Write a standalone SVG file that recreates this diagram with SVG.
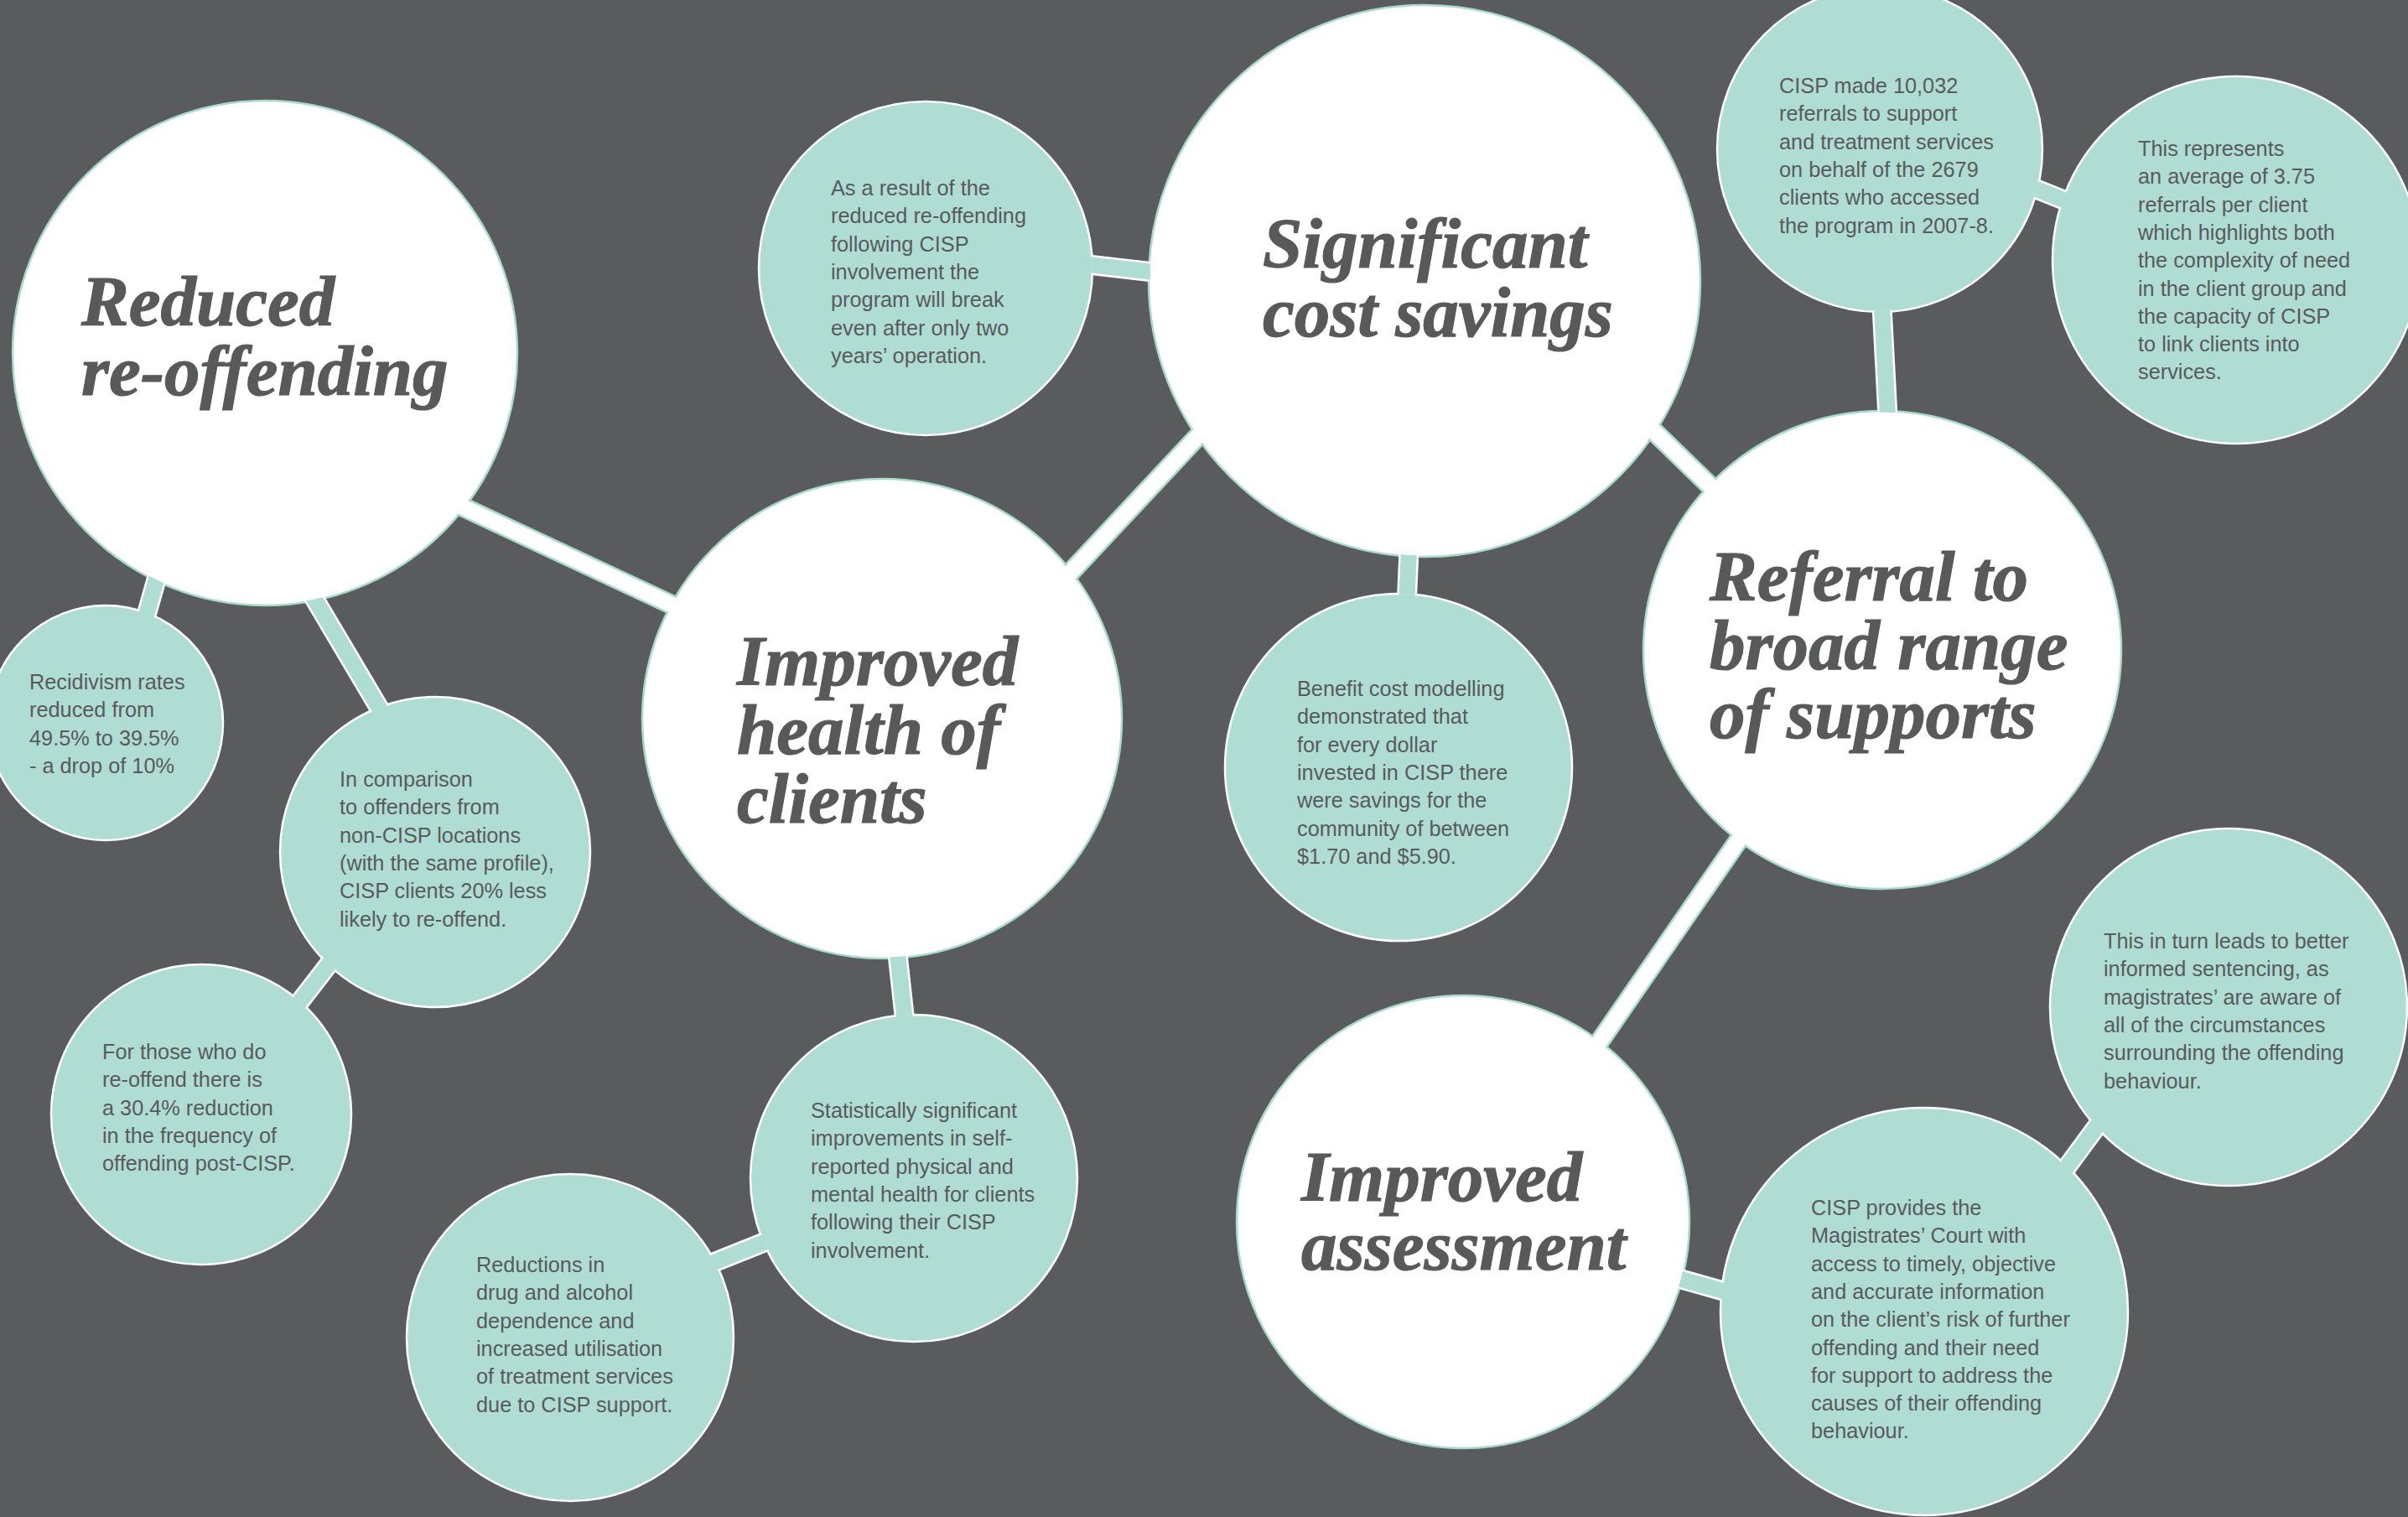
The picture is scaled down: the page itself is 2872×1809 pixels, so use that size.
<svg xmlns="http://www.w3.org/2000/svg" width="2872" height="1809" viewBox="0 0 2872 1809">
  <style>
    .bg { fill: #5a5b5d; }
    .main { fill: #ffffff; stroke: #a9d9cf; stroke-width: 2.5; }
    .fact { fill: #afdcd3; stroke: #ffffff; stroke-width: 2.5; }
    .title { font-family: "Liberation Serif", "Times New Roman", serif; font-weight: bold; font-style: italic; font-size: 85px; fill: #58595b; stroke: #58595b; stroke-width: 1.2; }
    .body { font-family: "Liberation Sans", Arial, sans-serif; font-size: 25.3px; fill: #595a5c; }
    .w-edge { stroke: #a9d9cf; stroke-width: 24; fill: none; }
    .w-core { stroke: #ffffff; stroke-width: 19; fill: none; }
    .t-edge { stroke: #ffffff; stroke-width: 24; fill: none; }
    .t-core { stroke: #afdcd3; stroke-width: 19; fill: none; }
  </style>
  <defs>
    <!-- hides connector segments inside the bubbles so they join each outline cleanly -->
    <mask id="outside-bubbles" maskUnits="userSpaceOnUse" x="0" y="0" width="2872" height="1809">
      <rect x="0" y="0" width="2872" height="1809" fill="#fff"/>
      <g fill="#000">
        <circle cx="316" cy="421" r="299.5"/>
        <circle cx="126" cy="862" r="138.5"/>
        <circle cx="519" cy="1016" r="183.5"/>
        <circle cx="240" cy="1329" r="177.5"/>
        <circle cx="1052" cy="857" r="284.5"/>
        <circle cx="1090" cy="1405" r="193.5"/>
        <circle cx="680" cy="1595" r="193.5"/>
        <circle cx="1104" cy="320" r="197.5"/>
        <circle cx="1699" cy="335" r="327.5"/>
        <circle cx="1668" cy="915" r="205.5"/>
        <circle cx="2242" cy="178" r="192.5"/>
        <circle cx="2667" cy="310" r="217.5"/>
        <circle cx="2245" cy="775" r="283.5"/>
        <circle cx="1745" cy="1457" r="268.5"/>
        <circle cx="2295" cy="1564" r="241.5"/>
        <circle cx="2658" cy="1201" r="211.5"/>
      </g>
    </mask>
  </defs>

  <rect class="bg" x="0" y="0" width="2872" height="1809"/>

  <!-- Main outcome bubbles -->
  <g id="reduced-reoffending">
    <circle class="main" cx="316" cy="421" r="301"/>
    <text class="title"><tspan x="97" y="388">Reduced</tspan><tspan x="97" y="471">re-offending</tspan></text>
  </g>
  <g id="improved-health">
    <circle class="main" cx="1052" cy="857" r="286"/>
    <text class="title"><tspan x="879" y="817">Improved</tspan><tspan x="879" y="899">health of</tspan><tspan x="879" y="981">clients</tspan></text>
  </g>
  <g id="cost-savings">
    <circle class="main" cx="1699" cy="335" r="329"/>
    <text class="title"><tspan x="1506" y="319">Significant</tspan><tspan x="1506" y="401">cost savings</tspan></text>
  </g>
  <g id="referral">
    <circle class="main" cx="2245" cy="775" r="285"/>
    <text class="title"><tspan x="2039" y="716">Referral to</tspan><tspan x="2039" y="798">broad range</tspan><tspan x="2039" y="880">of supports</tspan></text>
  </g>
  <g id="improved-assessment">
    <circle class="main" cx="1745" cy="1457" r="270"/>
    <text class="title"><tspan x="1552" y="1432">Improved</tspan><tspan x="1552" y="1514">assessment</tspan></text>
  </g>

  <!-- Supporting fact bubbles -->
  <g id="recidivism">
    <circle class="fact" cx="126" cy="862" r="140"/>
    <text class="body" x="35" y="822"><tspan x="35">Recidivism rates</tspan><tspan x="35" dy="33.3">reduced from</tspan><tspan x="35" dy="33.3">49.5% to 39.5%</tspan><tspan x="35" dy="33.3">- a drop of 10%</tspan></text>
  </g>
  <g id="comparison">
    <circle class="fact" cx="519" cy="1016" r="185"/>
    <text class="body" x="405" y="938"><tspan x="405">In comparison</tspan><tspan x="405" dy="33.3">to offenders from</tspan><tspan x="405" dy="33.3">non-CISP locations</tspan><tspan x="405" dy="33.3">(with the same profile),</tspan><tspan x="405" dy="33.3">CISP clients 20% less</tspan><tspan x="405" dy="33.3">likely to re-offend.</tspan></text>
  </g>
  <g id="frequency">
    <circle class="fact" cx="240" cy="1329" r="179"/>
    <text class="body" x="122" y="1263"><tspan x="122">For those who do</tspan><tspan x="122" dy="33.3">re-offend there is</tspan><tspan x="122" dy="33.3">a 30.4% reduction</tspan><tspan x="122" dy="33.3">in the frequency of</tspan><tspan x="122" dy="33.3">offending post-CISP.</tspan></text>
  </g>
  <g id="health-improvements">
    <circle class="fact" cx="1090" cy="1405" r="195"/>
    <text class="body" x="967" y="1333"><tspan x="967">Statistically significant</tspan><tspan x="967" dy="33.3">improvements in self-</tspan><tspan x="967" dy="33.3">reported physical and</tspan><tspan x="967" dy="33.3">mental health for clients</tspan><tspan x="967" dy="33.3">following their CISP</tspan><tspan x="967" dy="33.3">involvement.</tspan></text>
  </g>
  <g id="drug-alcohol">
    <circle class="fact" cx="680" cy="1595" r="195"/>
    <text class="body" x="568" y="1517"><tspan x="568">Reductions in</tspan><tspan x="568" dy="33.3">drug and alcohol</tspan><tspan x="568" dy="33.3">dependence and</tspan><tspan x="568" dy="33.3">increased utilisation</tspan><tspan x="568" dy="33.3">of treatment services</tspan><tspan x="568" dy="33.3">due to CISP support.</tspan></text>
  </g>
  <g id="break-even">
    <circle class="fact" cx="1104" cy="320" r="199"/>
    <text class="body" x="991" y="233"><tspan x="991">As a result of the</tspan><tspan x="991" dy="33.3">reduced re-offending</tspan><tspan x="991" dy="33.3">following CISP</tspan><tspan x="991" dy="33.3">involvement the</tspan><tspan x="991" dy="33.3">program will break</tspan><tspan x="991" dy="33.3">even after only two</tspan><tspan x="991" dy="33.3">years’ operation.</tspan></text>
  </g>
  <g id="benefit-cost">
    <circle class="fact" cx="1668" cy="915" r="207"/>
    <text class="body" x="1547" y="830"><tspan x="1547">Benefit cost modelling</tspan><tspan x="1547" dy="33.3">demonstrated that</tspan><tspan x="1547" dy="33.3">for every dollar</tspan><tspan x="1547" dy="33.3">invested in CISP there</tspan><tspan x="1547" dy="33.3">were savings for the</tspan><tspan x="1547" dy="33.3">community of between</tspan><tspan x="1547" dy="33.3">$1.70 and $5.90.</tspan></text>
  </g>
  <g id="referrals-made">
    <circle class="fact" cx="2242" cy="178" r="194"/>
    <text class="body" x="2122" y="111"><tspan x="2122">CISP made 10,032</tspan><tspan x="2122" dy="33.3">referrals to support</tspan><tspan x="2122" dy="33.3">and treatment services</tspan><tspan x="2122" dy="33.3">on behalf of the 2679</tspan><tspan x="2122" dy="33.3">clients who accessed</tspan><tspan x="2122" dy="33.3">the program in 2007-8.</tspan></text>
  </g>
  <g id="referral-average">
    <circle class="fact" cx="2667" cy="310" r="219"/>
    <text class="body" x="2550" y="186"><tspan x="2550">This represents</tspan><tspan x="2550" dy="33.3">an average of 3.75</tspan><tspan x="2550" dy="33.3">referrals per client</tspan><tspan x="2550" dy="33.3">which highlights both</tspan><tspan x="2550" dy="33.3">the complexity of need</tspan><tspan x="2550" dy="33.3">in the client group and</tspan><tspan x="2550" dy="33.3">the capacity of CISP</tspan><tspan x="2550" dy="33.3">to link clients into</tspan><tspan x="2550" dy="33.3">services.</tspan></text>
  </g>
  <g id="court-information">
    <circle class="fact" cx="2295" cy="1564" r="243"/>
    <text class="body" x="2160" y="1449"><tspan x="2160">CISP provides the</tspan><tspan x="2160" dy="33.3">Magistrates’ Court with</tspan><tspan x="2160" dy="33.3">access to timely, objective</tspan><tspan x="2160" dy="33.3">and accurate information</tspan><tspan x="2160" dy="33.3">on the client’s risk of further</tspan><tspan x="2160" dy="33.3">offending and their need</tspan><tspan x="2160" dy="33.3">for support to address the</tspan><tspan x="2160" dy="33.3">causes of their offending</tspan><tspan x="2160" dy="33.3">behaviour.</tspan></text>
  </g>
  <g id="sentencing">
    <circle class="fact" cx="2658" cy="1201" r="213"/>
    <text class="body" x="2509" y="1131"><tspan x="2509">This in turn leads to better</tspan><tspan x="2509" dy="33.3">informed sentencing, as</tspan><tspan x="2509" dy="33.3">magistrates’ are aware of</tspan><tspan x="2509" dy="33.3">all of the circumstances</tspan><tspan x="2509" dy="33.3">surrounding the offending</tspan><tspan x="2509" dy="33.3">behaviour.</tspan></text>
  </g>

  <!-- Connectors: white bars join main bubbles, teal bars lead to facts -->
  <g id="connectors" mask="url(#outside-bubbles)">
    <g id="main-links">
      <path class="w-edge" d="M450,557 L850,744 M1500,444 L1180,786 M1930,473 L2100,638 M2130,920 L1850,1326"/>
      <path class="w-core" d="M450,557 L850,744 M1500,444 L1180,786 M1930,473 L2100,638 M2130,920 L1850,1326"/>
    </g>
    <g id="fact-links">
      <path class="t-edge" d="M201,640 L160,785 M340,655 L490,908 M430,1101 L320,1243 M1062,1060 L1085,1270 M800,1526 L960,1462 M1250,310 L1450,333 M1683,600 L1675,780 M2240,280 L2258,620 M2350,194 L2550,274 M1950,1510 L2150,1566 M2540,1290 L2420,1453"/>
      <path class="t-core" d="M201,640 L160,785 M340,655 L490,908 M430,1101 L320,1243 M1062,1060 L1085,1270 M800,1526 L960,1462 M1250,310 L1450,333 M1683,600 L1675,780 M2240,280 L2258,620 M2350,194 L2550,274 M1950,1510 L2150,1566 M2540,1290 L2420,1453"/>
    </g>
  </g>
</svg>
